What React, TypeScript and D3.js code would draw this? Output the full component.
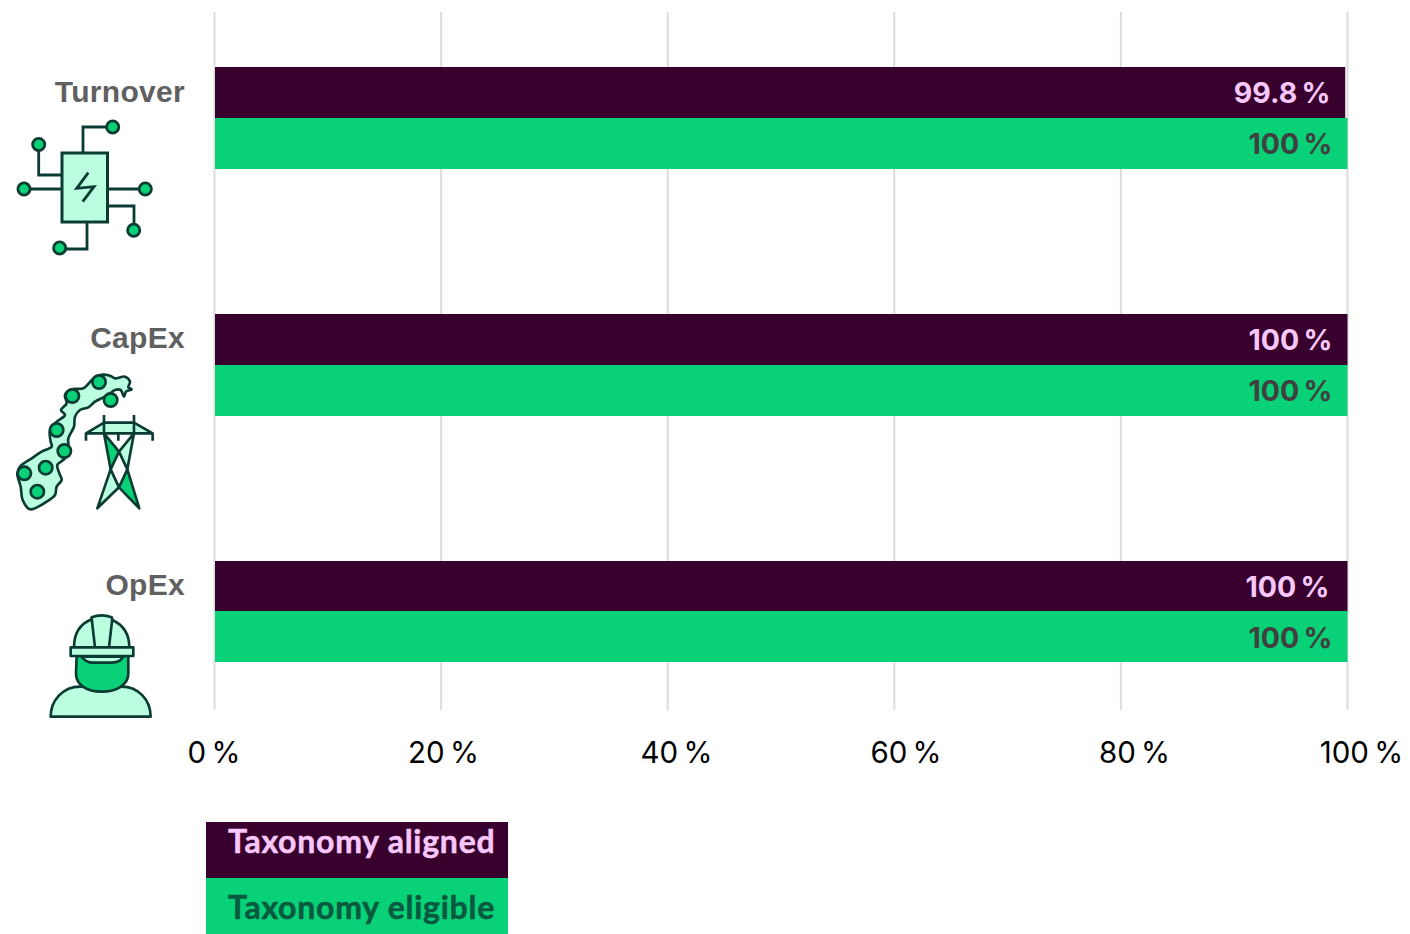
import React from "react";
import * as d3 from "d3";

const categories = ["Turnover", "CapEx", "OpEx"];
const alignedValues = [99.8, 100, 100];
const eligibleValues = [100, 100, 100];
const alignedLabels = ["99.8 %", "100 %", "100 %"];
const eligibleLabels = ["100 %", "100 %", "100 %"];
const tickValues = [0, 20, 40, 60, 80, 100];
const legendLabels = ["Taxonomy aligned", "Taxonomy eligible"];

const DARK = "#37002d";
const GREEN = "#08d177";
const PINK = "#f8c8fa";
const LIGHT = "#b9ffe0";
const INK = "#0b3c33";

const x = d3.scaleLinear().domain([0, 100]).range([214.5, 1347.5]);
const tickLabelX = d3.scaleLinear().domain([0, 100]).range([214, 1361.5]);
const tickLabelNudge = [0, 0, 3.5, 3.5, 2.5, 0];
const y = d3.scaleBand().domain(categories).range([67, 808]).paddingInner(0).paddingOuter(0);
const barH = 51;

const sans = "'Liberation Sans', Arial, sans-serif";
const inter = "Inter, sans-serif";

function Dot({ cx, cy }: { cx: number; cy: number }) {
  return <circle cx={cx} cy={cy} r={6.1} fill={GREEN} stroke={INK} strokeWidth={2.8} />;
}

function ChipIcon() {
  const dots = [
    [112.7, 127], [38.7, 144.5], [24, 189], [145.3, 189], [133.7, 230.3], [59.7, 248],
  ];
  const wires = [
    "M83,153V127H112", "M38.7,144V175H62", "M24,189H62", "M107.5,189H145",
    "M107.5,206H134V230", "M87,222V249H60",
  ];
  return (
    <g>
      {wires.map((d) => <path key={d} d={d} fill="none" stroke={INK} strokeWidth={2.8} />)}
      <rect x={62} y={153} width={45.5} height={69} fill={LIGHT} stroke={INK} strokeWidth={3} />
      <path d="M88.3,172.7L76.7,188.3L94,186.7L82.7,201.7" fill="none" stroke={INK} strokeWidth={2.8} />
      {dots.map(([cx, cy]) => <Dot key={cx} cx={cx} cy={cy} />)}
    </g>
  );
}

function NorwayIcon() {
  const outline: [number, number][] = [
    [90, 598], [68, 570], [62, 530], [52, 490], [60, 470], [95, 445], [125, 425], [155, 410],
    [152, 395], [150, 360], [170, 335], [195, 315], [183, 300], [200, 280], [195, 255], [215, 238],
    [250, 235], [278, 208], [300, 195], [330, 197], [345, 205], [375, 200], [390, 215], [385, 232],
    [395, 238], [378, 245], [372, 260], [362, 240], [345, 240], [330, 250], [310, 262], [285, 275],
    [265, 292], [240, 300], [225, 320], [222, 350], [205, 385], [205, 410], [195, 445], [172, 465],
    [178, 490], [185, 510], [170, 530], [165, 555], [140, 575], [115, 590],
  ];
  const dots = [
    [297, 216], [217, 258], [332, 270], [170, 360], [193, 423], [137, 473], [73, 490], [112, 545],
  ];
  const line = d3.line().curve(d3.curveCatmullRomClosed.alpha(0.5));
  return (
    <g transform="translate(0,310) scale(0.3333)">
      <path d={line(outline) as string} fill={LIGHT} stroke={INK} strokeWidth={8} strokeLinejoin="round" />
      {dots.map(([cx, cy]) => <circle key={cx} cx={cx} cy={cy} r={20} fill={GREEN} stroke={INK} strokeWidth={8} />)}
      <g transform="translate(240,300)" stroke={INK} strokeWidth={8} strokeLinejoin="round">
        <path d="M72,38H162L218,70H18Z" fill={LIGHT} />
        <path d="M72,70L117,125L92,178Z" fill={GREEN} />
        <path d="M162,70L117,125L142,178Z" fill={LIGHT} />
        <path d="M92,178L117,232L52,295Z" fill={LIGHT} />
        <path d="M142,178L117,232L178,295Z" fill={GREEN} />
        <path d="M72,15V70M162,15V70M18,70V92M218,70V92M115,70V92" fill="none" />
      </g>
    </g>
  );
}

function WorkerIcon() {
  return (
    <g transform="translate(0,560) scale(0.3333)" stroke={INK} strokeWidth={8} strokeLinejoin="round">
      <path d="M152,470C152,420 190,380 240,380H365C415,380 452,420 452,470Z" fill={LIGHT} />
      <path d="M230,288H385V340C385,375 350,395 305,395C260,395 228,375 228,340Z" fill={GREEN} />
      <path d="M245,290C255,305 265,308 280,308H330C350,308 360,305 370,290Z" fill={LIGHT} />
      <path d="M222,262C222,215 245,190 275,178V172Q305,160 335,172L337,180C370,195 388,225 388,262Z" fill={LIGHT} />
      <path d="M275,175L285,262M337,175L327,262" fill="none" />
      <rect x={212} y={262} width={188} height={26} fill={LIGHT} />
    </g>
  );
}

const icons = [ChipIcon, NorwayIcon, WorkerIcon];
const alignedLabelRight = [1330.5, 1332.5, 1329.5];
const categoryBaseline = [102, 348, 595];
const eligibleBarOffset = [51, 51, 50];

export default function App() {
  return (
    <svg width={1410} height={934} style={{ position: "fixed", left: 0, top: 0, background: "#fff" }}>
      {tickValues.map((t) => (
        <line key={t} x1={x(t)} x2={x(t)} y1={12} y2={710} stroke="#dcdcdc" strokeWidth={2} />
      ))}
      {categories.map((c, i) => {
        const top = y(c) as number;
        return (
          <g key={c}>
            <rect x={x(0) + 0.5} y={top} width={x(alignedValues[i]) - x(0) - 0.5} height={barH} fill={DARK} />
            <rect x={x(0) + 0.5} y={top + eligibleBarOffset[i]} width={x(eligibleValues[i]) - x(0) - 0.5} height={barH} fill={GREEN} />
            <text x={alignedLabelRight[i]} y={top + 36} textAnchor="end" fontFamily={inter} fontWeight={700} fontSize={28.5} wordSpacing={-2.5} fill={PINK}>
              {alignedLabels[i]}
            </text>
            <text x={1332.5} y={top + 87} textAnchor="end" fontFamily={inter} fontWeight={700} fontSize={28.5} wordSpacing={-2.5} fill="#404040">
              {eligibleLabels[i]}
            </text>
            <text x={185} y={categoryBaseline[i]} textAnchor="end" fontFamily={sans} fontWeight={700} fontSize={30} letterSpacing={0.3} fill="#606060">
              {c}
            </text>
          </g>
        );
      })}
      {icons.map((Icon, i) => <Icon key={i} />)}
      {tickValues.map((t, i) => (
        <text key={t} x={tickLabelX(t) + tickLabelNudge[i]} y={763} textAnchor="middle" fontFamily={inter} fontSize={29.5} wordSpacing={-3} fill="#000">
          {t} %
        </text>
      ))}
      <rect x={206} y={822} width={302} height={56} fill={DARK} />
      <rect x={206} y={878} width={302} height={56} fill={GREEN} />
      <text x={228} y={853} fontFamily="Lato, sans-serif" fontWeight={700} fontSize={32} letterSpacing={0.75} stroke={PINK} strokeWidth={0.5} fill={PINK}>{legendLabels[0]}</text>
      <text x={228} y={919} fontFamily="Lato, sans-serif" fontWeight={700} fontSize={32} letterSpacing={0.75} stroke="#07593f" strokeWidth={0.5} fill="#07593f">{legendLabels[1]}</text>
    </svg>
  );
}
